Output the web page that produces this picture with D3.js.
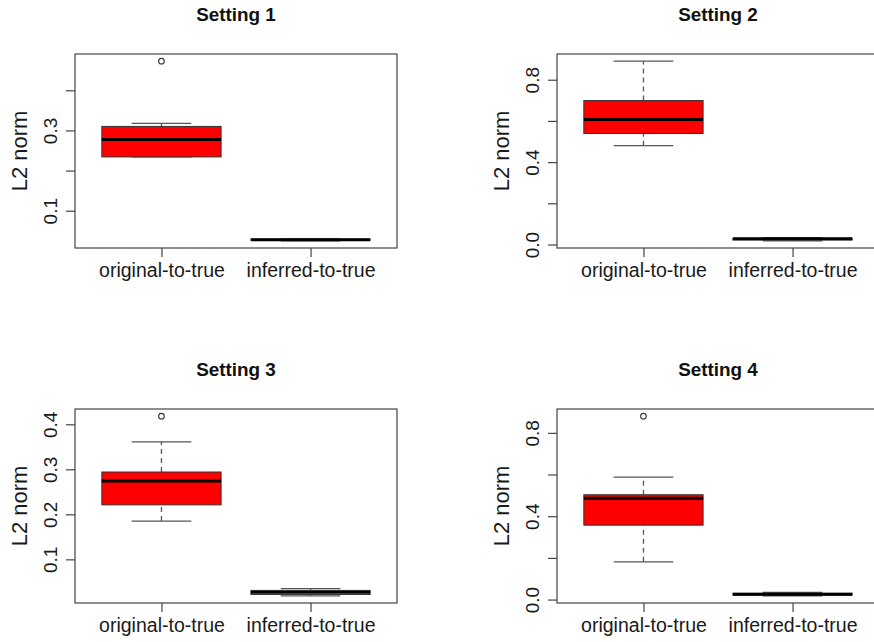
<!DOCTYPE html>
<html>
<head>
<meta charset="utf-8">
<script src="https://cdn.jsdelivr.net/npm/d3@7"></script>
<style>
  html, body { margin: 0; padding: 0; background: #fff; }
  svg { display: block; font-family: "Liberation Sans", Arial, Helvetica, sans-serif; }
</style>
</head>
<body>
<svg id="chart" width="874" height="642"></svg>
<script>
// Panel titles and box groups
const settings = ["Setting 1", "Setting 2", "Setting 3", "Setting 4"];
const groups = ["original-to-true", "inferred-to-true"];
const groupFill = ["#ff0000", "#ffffff"];

// Box statistics, indexed [setting][group]
const lowWhisker  = [[0.234, 0.025], [0.480, 0.018], [0.185, 0.019], [0.181, 0.018]];
const lowerQuart  = [[0.234, 0.0265], [0.539, 0.022], [0.221, 0.022], [0.357, 0.021]];
const medians     = [[0.2775, 0.0275], [0.607, 0.0277], [0.274, 0.027], [0.486, 0.0255]];
const upperQuart  = [[0.310, 0.029], [0.699, 0.030], [0.294, 0.031], [0.503, 0.030]];
const highWhisker = [[0.3175, 0.030], [0.890, 0.033], [0.361, 0.035], [0.588, 0.034]];
const outliers    = [[[0.4725], []], [[], []], [[0.418], []], [[0.880], []]];

// Y axis ticks and the labels printed beside them
const yTicks = [
  [0.1, 0.2, 0.3, 0.4],
  [0.0, 0.2, 0.4, 0.6, 0.8],
  [0.1, 0.2, 0.3, 0.4],
  [0.0, 0.2, 0.4, 0.6, 0.8]
];
const yTickLabels = [
  ["0.1", "", "0.3", ""],
  ["0.0", "", "0.4", "", "0.8"],
  ["0.1", "0.2", "0.3", "0.4"],
  ["0.0", "", "0.4", "", "0.8"]
];
const yLabel = "L2 norm";

// Layout of the 2x2 grid of plot regions
const plotW = 322, plotH = 194;
const colLeft = [75, 557];
const rowTop = [54, 409];

const svg = d3.select("#chart");

settings.forEach((title, s) => {
  const left = colLeft[s % 2], top = rowTop[Math.floor(s / 2)];
  const g = svg.append("g").attr("transform", `translate(${left},${top})`);

  // y range covers all whiskers and outliers, padded by 4%
  const vals = [...lowWhisker[s], ...highWhisker[s], ...outliers[s].flat()];
  const lo = d3.min(vals), hi = d3.max(vals), pad = (hi - lo) * 0.04;
  const y = d3.scaleLinear().domain([lo - pad, hi + pad]).range([plotH, 0]);
  const x = d3.scaleLinear().domain([0.42, 2.58]).range([0, plotW]);
  const halfBox = 0.4, halfStaple = 0.2;

  // boxes
  groups.forEach((grp, i) => {
    const cx = x(i + 1);
    const bg = g.append("g");
    // dashed whiskers
    [[lowWhisker[s][i], lowerQuart[s][i]], [upperQuart[s][i], highWhisker[s][i]]].forEach(([a, b]) => {
      if (Math.abs(y(a) - y(b)) > 0.5) {
        bg.append("line")
          .attr("x1", cx).attr("x2", cx).attr("y1", y(a)).attr("y2", y(b))
          .attr("stroke", "#555").attr("stroke-width", 1.3).attr("stroke-dasharray", "5,4");
      }
    });
    // staples
    [lowWhisker[s][i], highWhisker[s][i]].forEach(v => {
      bg.append("line")
        .attr("x1", x(i + 1 - halfStaple)).attr("x2", x(i + 1 + halfStaple))
        .attr("y1", y(v)).attr("y2", y(v))
        .attr("stroke", "#555").attr("stroke-width", 1.3);
    });
    // box
    bg.append("rect")
      .attr("x", x(i + 1 - halfBox)).attr("width", x(i + 1 + halfBox) - x(i + 1 - halfBox))
      .attr("y", y(upperQuart[s][i])).attr("height", y(lowerQuart[s][i]) - y(upperQuart[s][i]))
      .attr("fill", groupFill[i]).attr("stroke", "#333").attr("stroke-width", 1);
    // median
    bg.append("line")
      .attr("x1", x(i + 1 - halfBox)).attr("x2", x(i + 1 + halfBox))
      .attr("y1", y(medians[s][i])).attr("y2", y(medians[s][i]))
      .attr("stroke", "#000").attr("stroke-width", 3);
    // outliers
    outliers[s][i].forEach(v => {
      bg.append("circle").attr("cx", cx).attr("cy", y(v)).attr("r", 2.8)
        .attr("fill", "none").attr("stroke", "#333").attr("stroke-width", 1.1);
    });
  });

  // frame
  g.append("rect").attr("x", 0).attr("y", 0).attr("width", plotW).attr("height", plotH)
    .attr("fill", "none").attr("stroke", "#444").attr("stroke-width", 1.2);

  // y axis
  const yAxis = g.append("g")
    .call(d3.axisLeft(y).tickValues(yTicks[s]).tickSize(9).tickSizeOuter(0)
      .tickFormat((d, k) => yTickLabels[s][k]));
  yAxis.select(".domain").remove();
  yAxis.selectAll("line").attr("stroke", "#444").attr("stroke-width", 1.2);
  yAxis.selectAll("text")
    .attr("x", 0).attr("dy", null).attr("y", 0)
    .attr("text-anchor", "middle")
    .attr("transform", "translate(-18,0) rotate(-90)")
    .attr("fill", "#1a1a1a").attr("font-size", 19);

  // x axis
  const xAxis = g.append("g").attr("transform", `translate(0,${plotH})`)
    .call(d3.axisBottom(x).tickValues([1, 2]).tickSize(9).tickSizeOuter(0)
      .tickFormat((d, k) => groups[k]));
  xAxis.select(".domain").remove();
  xAxis.selectAll("line").attr("stroke", "#444").attr("stroke-width", 1.2);
  xAxis.selectAll("text")
    .attr("y", 29).attr("dy", null)
    .attr("fill", "#1a1a1a").attr("font-size", 19.5);

  // y label
  g.append("text")
    .attr("transform", `translate(-48,${plotH / 2}) rotate(-90)`)
    .attr("text-anchor", "middle").attr("font-size", 22).attr("fill", "#1a1a1a")
    .text(yLabel);

  // title
  g.append("text")
    .attr("transform", `translate(${plotW / 2},-33) scale(1.05,1)`)
    .attr("text-anchor", "middle").attr("font-size", 18).attr("font-weight", "bold")
    .attr("fill", "#111")
    .text(title);
});
</script>
</body>
</html>
